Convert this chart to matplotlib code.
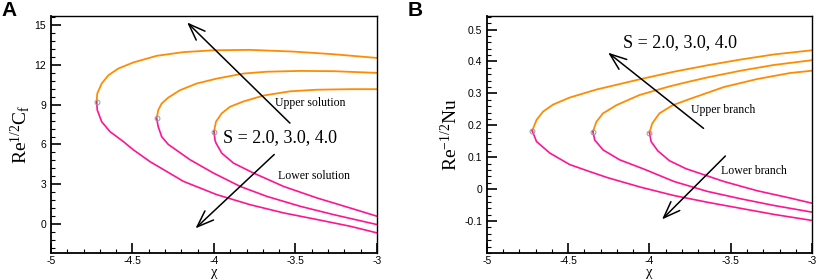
import matplotlib.pyplot as plt
from matplotlib.ticker import MultipleLocator

plt.rcParams["font.family"] = ["Liberation Sans", "DejaVu Sans"]
plt.rcParams["mathtext.fontset"] = "custom"
plt.rcParams["mathtext.rm"] = "Liberation Serif"
plt.rcParams["mathtext.it"] = "Liberation Serif:italic"

S_LABEL = "S = 2.0, 3.0, 4.0"
X_TICKS = [-5, -4.5, -4, -3.5, -3]
X_TICK_LABELS = ["-5", "-4.5", "-4", "-3.5", "-3"]

# ---- panel A: skin friction, Re^{1/2} Cf ----
CF_FOLD_X = [-4.72, -4.352, -4.0]
CF_FOLD_Y = [9.23, 7.97, 6.97]

CF_UP_X = [
    [-4.72, -4.716, -4.689, -4.648, -4.587, -4.495, -4.352, -4.188, -4.003, -3.779, -3.512, -3.266, -3.0],
    [-4.352, -4.342, -4.321, -4.28, -4.209, -4.106, -3.983, -3.82, -3.676, -3.471, -3.266, -3.0],
    [-4.0, -3.988, -3.953, -3.902, -3.82, -3.696, -3.532, -3.368, -3.164, -3.0],
]
CF_UP_Y = [
    [9.23, 9.86, 10.61, 11.23, 11.74, 12.2, 12.7, 12.98, 13.12, 13.15, 13.02, 12.82, 12.54],
    [7.97, 8.6, 9.1, 9.55, 10.1, 10.61, 10.98, 11.36, 11.5, 11.56, 11.54, 11.41],
    [6.97, 7.72, 8.35, 8.85, 9.25, 9.7, 10.02, 10.14, 10.18, 10.18],
]
CF_LO_X = [
    [-4.72, -4.716, -4.689, -4.638, -4.556, -4.495, -4.392, -4.187, -3.983, -3.778, -3.573, -3.368, -3.164, -3.0],
    [-4.352, -4.342, -4.321, -4.28, -4.146, -4.003, -3.839, -3.676, -3.471, -3.266, -3.0],
    [-4.0, -3.994, -3.987, -3.952, -3.88, -3.757, -3.573, -3.368, -3.164, -3.0],
]
CF_LO_Y = [
    [9.23, 8.6, 7.72, 6.97, 6.22, 5.6, 4.7, 3.21, 2.21, 1.45, 0.83, 0.33, -0.18, -0.68],
    [7.97, 7.34, 6.59, 6.0, 4.84, 3.84, 2.83, 2.08, 1.33, 0.7, -0.05],
    [6.97, 6.34, 6.09, 5.34, 4.59, 3.84, 2.83, 1.96, 1.2, 0.58],
]

# ---- panel B: heat transfer, Re^{-1/2} Nu ----
NU_FOLD_X = [-4.722, -4.348, -4.0]
NU_FOLD_Y = [0.183, 0.18, 0.177]

NU_UP_X = [
    [-4.722, -4.695, -4.655, -4.593, -4.491, -4.327, -4.053, -3.849, -3.644, -3.44, -3.235, -3.0],
    [-4.348, -4.327, -4.286, -4.204, -4.061, -3.877, -3.755, -3.644, -3.44, -3.235, -3.0],
    [-4.0, -3.983, -3.939, -3.857, -3.755, -3.542, -3.337, -3.133, -3.0],
]
NU_UP_Y = [
    [0.183, 0.217, 0.243, 0.265, 0.287, 0.312, 0.345, 0.368, 0.388, 0.406, 0.422, 0.435],
    [0.18, 0.211, 0.2375, 0.263, 0.295, 0.322, 0.337, 0.35, 0.371, 0.389, 0.404],
    [0.177, 0.206, 0.2375, 0.263, 0.282, 0.32, 0.345, 0.364, 0.371],
]
NU_LO_X = [
    [-4.722, -4.695, -4.613, -4.491, -4.368, -4.258, -4.053, -3.849, -3.644, -3.44, -3.235, -3.0],
    [-4.348, -4.337, -4.286, -4.184, -4.03, -3.849, -3.644, -3.44, -3.235, -3.0],
    [-4.0, -3.99, -3.949, -3.877, -3.775, -3.542, -3.337, -3.133, -3.0],
]
NU_LO_Y = [
    [0.183, 0.149, 0.113, 0.077, 0.055, 0.036, 0.006, -0.02, -0.041, -0.06, -0.079, -0.098],
    [0.18, 0.154, 0.123, 0.092, 0.062, 0.024, -0.007, -0.03, -0.051, -0.072],
    [0.177, 0.149, 0.12, 0.089, 0.064, 0.024, -0.005, -0.028, -0.044],
]

UPPER_COLOR = "#ff8c00"
LOWER_COLOR = "#ff1493"
SERIF = ["Liberation Serif", "DejaVu Serif"]


def style_axes(ax, ylim, ymajor, yminor):
    ax.set_xlim(-5, -3)
    ax.set_ylim(*ylim)
    ax.set_xticks(X_TICKS)
    ax.set_xticklabels(X_TICK_LABELS)
    ax.xaxis.set_minor_locator(MultipleLocator(0.1))
    ax.yaxis.set_major_locator(MultipleLocator(ymajor))
    ax.yaxis.set_minor_locator(MultipleLocator(yminor))
    ax.tick_params(which="both", direction="in", top=False, right=False, labelsize=7.5)
    ax.tick_params(which="major", length=7, width=1.2)
    ax.tick_params(which="minor", length=3, width=0.8)
    ax.tick_params(axis="x", pad=2)
    for side in ["left", "bottom"]:
        ax.spines[side].set_linewidth(1.3)
    for side in ["top", "right"]:
        ax.spines[side].set_linewidth(1.0)
    ax.set_xlabel("χ", family=SERIF, fontsize=10.5, labelpad=0)


def draw_curves(ax, fx, fy, ux, uy, lx, ly):
    for i in range(len(fx)):
        ax.plot(ux[i], uy[i], color=UPPER_COLOR, lw=1.3)
        ax.plot(lx[i], ly[i], color=LOWER_COLOR, lw=1.2)
    ax.plot(fx, fy, ls="none", marker="o", ms=3.5, mfc="none", mec="#999999", mew=0.7)


fig = plt.figure(figsize=(8.16, 2.8), dpi=100)
ax1 = fig.add_axes([0.0625, 0.0964, 0.3995, 0.846])
ax2 = fig.add_axes([0.5968, 0.0964, 0.3983, 0.846])

arrow = dict(arrowstyle="->,head_length=1.2,head_width=0.45", color="black", lw=1.1)

# panel A
draw_curves(ax1, CF_FOLD_X, CF_FOLD_Y, CF_UP_X, CF_UP_Y, CF_LO_X, CF_LO_Y)
style_axes(ax1, (-2.2, 15.7), 3, 0.6)
ax1.set_ylabel(r"Re$^{\mathregular{1/2}}$C$_{\mathregular{f}}$", family=SERIF, fontsize=14, labelpad=2)
ax1.annotate("", xy=(-4.177, 15.37), xytext=(-3.522, 7.47), arrowprops=arrow)
ax1.annotate("", xy=(-4.126, -0.48), xytext=(-3.618, 5.39), arrowprops=arrow)
ax1.text(-3.945, 6.55, S_LABEL, family=SERIF, fontsize=13, va="center")
ax1.text(-3.625, 9.1, "Upper solution", family=SERIF, fontsize=8.5, va="center")
ax1.text(-3.605, 3.64, "Lower solution", family=SERIF, fontsize=8.5, va="center")

# panel B
draw_curves(ax2, NU_FOLD_X, NU_FOLD_Y, NU_UP_X, NU_UP_Y, NU_LO_X, NU_LO_Y)
style_axes(ax2, (-0.2, 0.542), 0.1, 0.02)
ax2.set_yticks([-0.1, 0, 0.1, 0.2, 0.3, 0.4, 0.5])
ax2.set_yticklabels(["-0.1", "0", "0.1", "0.2", "0.3", "0.4", "0.5"])
ax2.set_ylabel(r"Re$^{\mathregular{-1/2}}$Nu", family=SERIF, fontsize=14, labelpad=2)
ax2.annotate("", xy=(-4.268, 0.433), xytext=(-3.654, 0.185), arrowprops=arrow)
ax2.annotate("", xy=(-3.935, -0.101), xytext=(-3.521, 0.110), arrowprops=arrow)
ax2.text(-4.16, 0.458, S_LABEL, family=SERIF, fontsize=13, va="center")
ax2.text(-3.746, 0.248, "Upper branch", family=SERIF, fontsize=8.5, va="center")
ax2.text(-3.562, 0.058, "Lower branch", family=SERIF, fontsize=8.5, va="center")

fig.text(0.002, 0.995, "A", fontsize=15, fontweight="bold", va="top", ha="left")
fig.text(0.5, 0.995, "B", fontsize=15, fontweight="bold", va="top", ha="left")

fig.savefig("out.png", dpi=100)
